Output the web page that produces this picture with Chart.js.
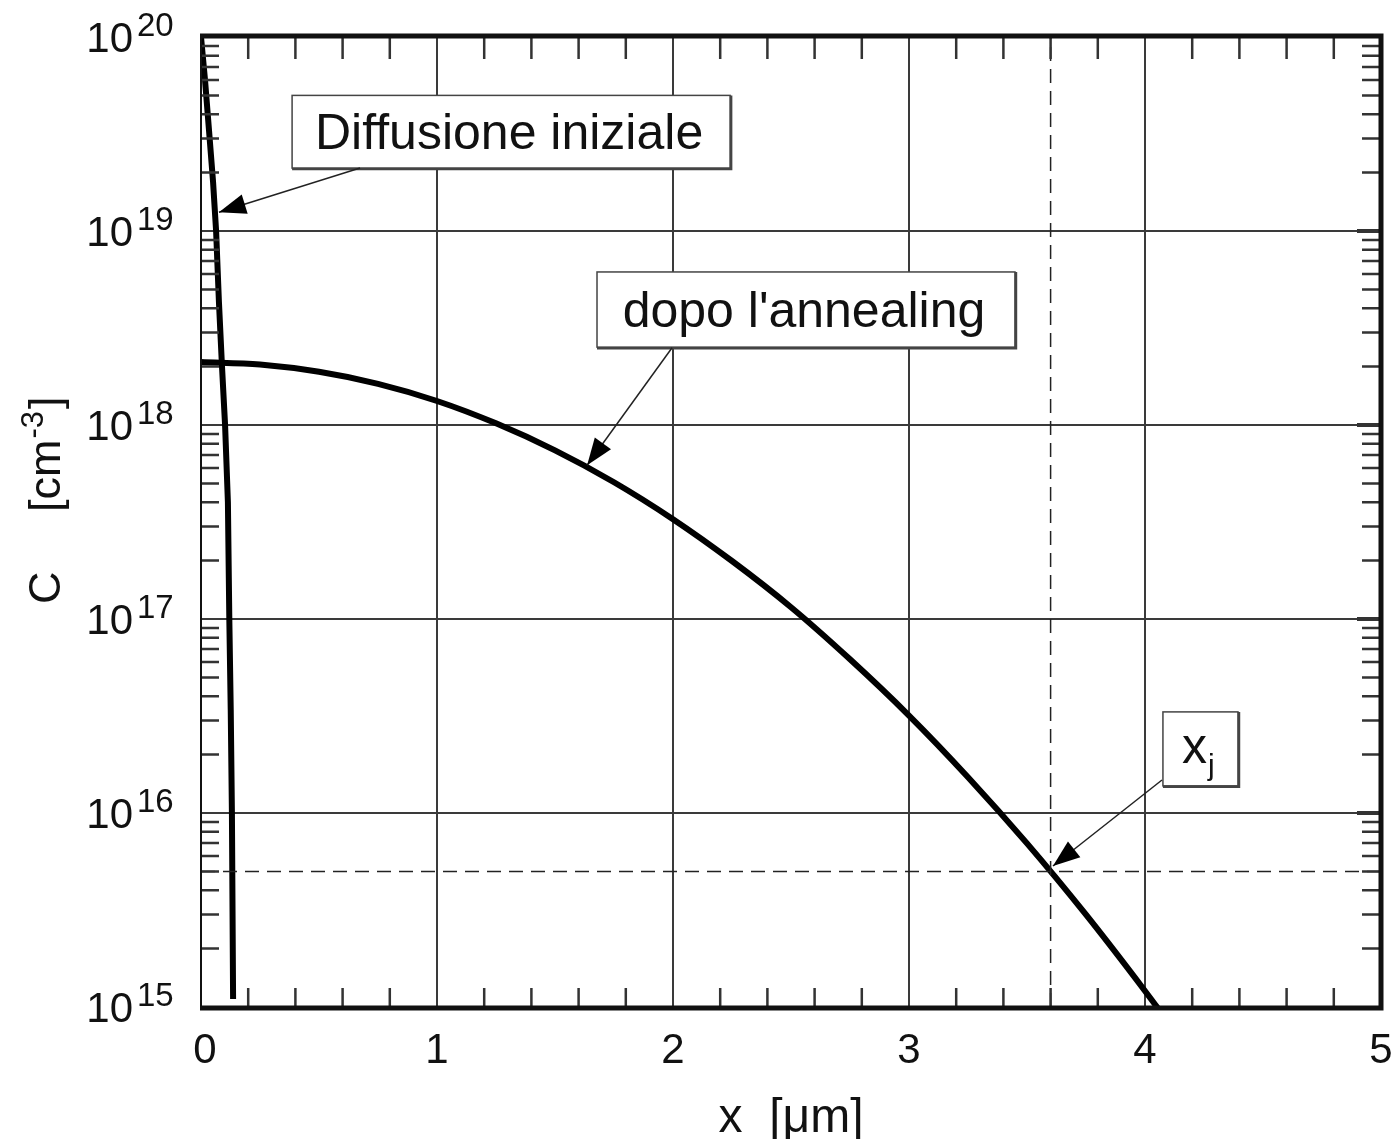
<!DOCTYPE html>
<html>
<head>
<meta charset="utf-8">
<script src="https://cdn.jsdelivr.net/npm/chart.js@4/dist/chart.umd.min.js"></script>
<style>
  body { margin: 0; background: #fff; }
  #wrap { width: 1397px; height: 1139px; }
</style>
</head>
<body>
<div id="wrap"><canvas id="chart" width="1397" height="1139"></canvas></div>
<script>
// axis ticks
const xTickValues = [0, 1, 2, 3, 4, 5];
const xTickLabels = ['0', '1', '2', '3', '4', '5'];
const yDecades = [15, 16, 17, 18, 19, 20];

// Diffusione iniziale (x in um, C in cm^-3)
const initialX = [0, 0.017, 0.034, 0.051, 0.064, 0.076, 0.089, 0.102, 0.114, 0.120, 0.126, 0.131, 0.136];
const initialC = [1e20, 6.0e19, 3.3e19, 1.8e19, 1.0e19, 4.3e18, 2.0e18, 1.0e18, 4.0e17, 1.0e17, 3.4e16, 1.0e16, 1.1e15];

// dopo l'annealing
const annealX = [0, 0.25, 0.5, 0.75, 1.0, 1.25, 1.5, 1.75, 2.0, 2.25, 2.5, 2.75, 3.0, 3.25, 3.5, 3.75, 4.0, 4.1];
const annealC = [2.11e18, 2.05e18, 1.88e18, 1.63e18, 1.33e18, 1.02e18, 7.4e17, 5.07e17, 3.27e17, 1.99e17,
                 1.15e17, 6.2e16, 3.18e16, 1.53e16, 6.97e15, 2.99e15, 1.21e15, 8.3e14];

// junction depth xj and background level
const junctionX = 3.6;
const junctionC = 5e15;

const toPoints = (xs, ys) => xs.map((x, i) => ({ x, y: ys[i] }));

// callout boxes: box [x1, yTop, x2, yBottom] in data units, arrow tail -> tip
const callouts = [
  { text: 'Diffusione iniziale', box: [0.386, 5.0e19, 2.242, 2.11e19], tail: [0.674, 2.11e19], tip: [0.076, 1.25e19] },
  { text: "dopo l'annealing", box: [1.678, 6.15e18, 3.449, 2.52e18], tail: [1.996, 2.5e18], tip: [1.636, 6.2e17] },
  { text: 'x', sub: 'j', box: [4.076, 3.32e16, 4.394, 1.38e16], tail: [4.072, 1.48e16], tip: [3.61, 5.33e15] },
];

const FONT = "'Liberation Sans', Arial, sans-serif";

function arrow(ctx, x0, y0, x1, y1) {
  ctx.strokeStyle = '#222';
  ctx.lineWidth = 1.5;
  ctx.beginPath();
  ctx.moveTo(x0, y0);
  ctx.lineTo(x1, y1);
  ctx.stroke();
  const a = Math.atan2(y1 - y0, x1 - x0);
  const len = 27, hw = 10;
  const bx = x1 - len * Math.cos(a), by = y1 - len * Math.sin(a);
  ctx.fillStyle = '#000';
  ctx.beginPath();
  ctx.moveTo(x1, y1);
  ctx.lineTo(bx + hw * Math.sin(a), by - hw * Math.cos(a));
  ctx.lineTo(bx - hw * Math.sin(a), by + hw * Math.cos(a));
  ctx.closePath();
  ctx.fill();
}

const decorPlugin = {
  id: 'decor',
  afterDatasetsDraw(chart) {
    const { ctx, chartArea: ca, scales } = chart;
    const xs = scales.x, ys = scales.y;
    ctx.save();

    // minor ticks, inside
    ctx.strokeStyle = '#333';
    ctx.lineWidth = 2.5;
    ctx.beginPath();
    for (let i = 1; i < 25; i++) {
      if (i % 5 === 0) continue;
      const px = xs.getPixelForValue(i * 0.2);
      ctx.moveTo(px, ca.top); ctx.lineTo(px, ca.top + 22);
      ctx.moveTo(px, ca.bottom); ctx.lineTo(px, ca.bottom - 19);
    }
    for (let d = 15; d < 20; d++) {
      for (let m = 2; m <= 9; m++) {
        const py = ys.getPixelForValue(m * Math.pow(10, d));
        ctx.moveTo(ca.left, py); ctx.lineTo(ca.left + 18, py);
        ctx.moveTo(ca.right, py); ctx.lineTo(ca.right - 19, py);
      }
    }
    ctx.stroke();
    ctx.lineWidth = 4;
    ctx.beginPath();
    for (let d = 16; d < 20; d++) {
      const py = ys.getPixelForValue(Math.pow(10, d));
      ctx.moveTo(ca.right, py); ctx.lineTo(ca.right - 24, py);
    }
    ctx.stroke();

    // frame
    ctx.strokeStyle = '#111';
    ctx.lineWidth = 2;
    ctx.beginPath();
    ctx.moveTo(ca.left, ca.top); ctx.lineTo(ca.left, ca.bottom);
    ctx.stroke();
    ctx.lineWidth = 5;
    ctx.beginPath();
    ctx.moveTo(ca.left - 1, ca.top - 1); ctx.lineTo(ca.right, ca.top - 1);
    ctx.lineTo(ca.right, ca.bottom + 1); ctx.lineTo(ca.left - 1, ca.bottom + 1);
    ctx.stroke();

    // callouts
    callouts.forEach(c => {
      const x1 = xs.getPixelForValue(c.box[0]), y1 = ys.getPixelForValue(c.box[1]);
      const x2 = xs.getPixelForValue(c.box[2]), y2 = ys.getPixelForValue(c.box[3]);
      ctx.fillStyle = '#fff';
      ctx.fillRect(x1, y1, x2 - x1, y2 - y1);
      ctx.strokeStyle = '#444';
      ctx.lineWidth = 1.5;
      ctx.strokeRect(x1, y1, x2 - x1, y2 - y1);
      ctx.lineWidth = 2.5;
      ctx.beginPath();
      ctx.moveTo(x2 + 1, y1); ctx.lineTo(x2 + 1, y2 + 1); ctx.lineTo(x1, y2 + 1);
      ctx.stroke();
      ctx.fillStyle = '#111';
      const cy = (y1 + y2) / 2;
      if (c.sub) {
        ctx.font = '50px ' + FONT;
        ctx.textAlign = 'left';
        ctx.textBaseline = 'alphabetic';
        ctx.fillText(c.text, x1 + 19, cy + 14);
        ctx.font = '30px ' + FONT;
        ctx.fillText(c.sub, x1 + 45, cy + 26);
      } else {
        ctx.font = '50px ' + FONT;
        ctx.textAlign = 'center';
        ctx.textBaseline = 'alphabetic';
        ctx.fillText(c.text, (x1 + x2) / 2 - 2, cy + 17, x2 - x1 - 36);
      }
      arrow(ctx, xs.getPixelForValue(c.tail[0]), ys.getPixelForValue(c.tail[1]),
        xs.getPixelForValue(c.tip[0]), ys.getPixelForValue(c.tip[1]));
    });

    // tick labels
    ctx.fillStyle = '#111';
    ctx.textBaseline = 'alphabetic';
    ctx.textAlign = 'center';
    ctx.font = '42px ' + FONT;
    xTickValues.forEach((v, i) => {
      const px = xs.getPixelForValue(v) + (i === 0 ? 4 : 0);
      ctx.fillText(xTickLabels[i], px, ca.bottom + 56);
    });
    yDecades.forEach(d => {
      const py = ys.getPixelForValue(Math.pow(10, d));
      ctx.textAlign = 'right';
      ctx.font = '42px ' + FONT;
      ctx.fillText('10', 133, py + 15);
      ctx.textAlign = 'left';
      ctx.font = '33px ' + FONT;
      ctx.fillText(String(d), 137, py - 1);
    });

    // axis titles
    ctx.font = '48px ' + FONT;
    ctx.textAlign = 'center';
    ctx.fillText('x  [\u03bcm]', 791, 1132);

    ctx.save();
    ctx.translate(60, 490);
    ctx.rotate(-Math.PI / 2);
    ctx.textAlign = 'left';
    ctx.font = '45px ' + FONT;
    ctx.fillText('C', -114, 0);
    ctx.fillText('[cm', -22, 0);
    const w = ctx.measureText('[cm').width;
    ctx.font = '31px ' + FONT;
    ctx.fillText('-3', -22 + w + 1, -17);
    const w2 = ctx.measureText('-3').width;
    ctx.font = '45px ' + FONT;
    ctx.fillText(']', -22 + w + w2 + 3, 0);
    ctx.restore();

    ctx.restore();
  }
};

new Chart(document.getElementById('chart'), {
  type: 'line',
  data: {
    datasets: [
      {
        data: [{ x: junctionX, y: 1e15 }, { x: junctionX, y: 1e20 }],
        borderColor: '#222', borderWidth: 1.5, borderDash: [14, 8], pointRadius: 0,
      },
      {
        data: [{ x: 0, y: junctionC }, { x: 5, y: junctionC }],
        borderColor: '#222', borderWidth: 1.5, borderDash: [14, 8], pointRadius: 0,
      },
      {
        data: toPoints(initialX, initialC),
        borderColor: '#000', borderWidth: 6, pointRadius: 0, tension: 0,
      },
      {
        data: toPoints(annealX, annealC),
        borderColor: '#000', borderWidth: 6, pointRadius: 0, cubicInterpolationMode: 'monotone',
      },
    ],
  },
  options: {
    responsive: false,
    animation: false,
    events: [],
    layout: { padding: { left: 201, top: 37, right: 16, bottom: 132 } },
    plugins: { legend: { display: false }, tooltip: { enabled: false } },
    scales: {
      x: {
        type: 'linear', min: 0, max: 5,
        afterBuildTicks: s => { s.ticks = xTickValues.map(v => ({ value: v })); },
        ticks: { display: false },
        border: { display: false },
        grid: { color: '#3a3a3a', lineWidth: 2, drawTicks: false },
      },
      y: {
        type: 'logarithmic', min: 1e15, max: 1e20,
        afterBuildTicks: s => { s.ticks = yDecades.map(d => ({ value: Math.pow(10, d) })); },
        ticks: { display: false },
        border: { display: false },
        grid: { color: '#3a3a3a', lineWidth: 2, drawTicks: false },
      },
    },
  },
  plugins: [decorPlugin],
});
</script>
</body>
</html>
